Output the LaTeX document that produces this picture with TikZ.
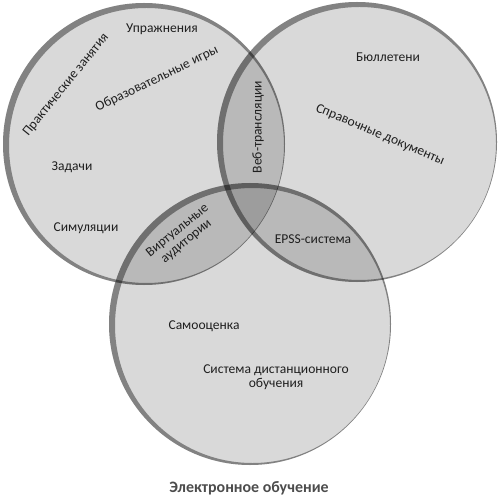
\documentclass[tikz,border=0pt]{standalone}
\usepackage{fontspec}
\setmainfont{Carlito}
\begin{document}
\begin{tikzpicture}[x=1bp,y=-1bp,
  lbl/.style={text=black!88, inner sep=0pt, align=center, font=\fontsize{13.6}{14}\selectfont},
  disc/.style={fill=black, fill opacity=0.15},
  rim/.style={fill=black, fill opacity=0.40, even odd rule}]
\useasboundingbox (0,0) rectangle (500,497);
% discs
\fill[disc] (144,144) circle[radius=141];
\fill[disc] (357,142) circle[radius=140];
\fill[disc] (250,324) circle[radius=141];
% rims (thick on upper left, thin on lower right)
\fill[rim] (144,144) circle[radius=141] (146.5,145.5) circle[radius=137.5];
\fill[rim] (357,142) circle[radius=140] (359.5,143.5) circle[radius=136.5];
\fill[rim] (250,324) circle[radius=141] (252.5,325.5) circle[radius=137.5];
% labels
\node[lbl] (upr) at (162,29) {Упражнения};
\node[lbl, rotate=51] (prak) at (66,85) {Практические занятия};
\node[lbl, rotate=26] (obr) at (157,79) {Образовательные игры};
\node[lbl] (zad) at (72,167) {Задачи};
\node[lbl] (sim) at (86,228) {Симуляции};
\node[lbl, rotate=90] (veb) at (258,127) {Веб-трансляции};
\node[lbl] (bul) at (388,57) {Бюллетени};
\node[lbl, rotate=-23] (spr) at (380,135) {Справочные документы};
\node[lbl, rotate=39] (virt) at (182,236) {Виртуальные\\аудитории};
\node[lbl] (epss) at (313,239) {EPSS-система};
\node[lbl] (samo) at (204,326) {Самооценка};
\node[lbl] (sdo) at (276,377) {Система дистанционного\\обучения};
\node[inner sep=0pt, text=black!70, font=\fontsize{16}{18}\selectfont\bfseries] (cap) at (249,488) {Электронное обучение};
\end{tikzpicture}
\end{document}
